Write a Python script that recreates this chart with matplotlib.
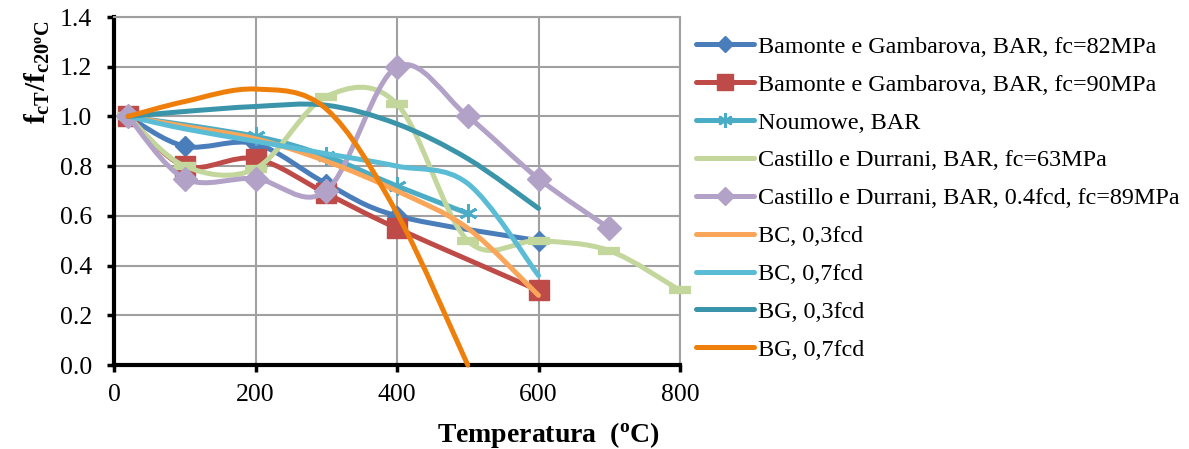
import numpy as np
import matplotlib
matplotlib.use("Agg")
import matplotlib.pyplot as plt
from matplotlib.path import Path
from matplotlib.patches import PathPatch
from matplotlib.lines import Line2D

plt.rcParams['font.family'] = ['Liberation Serif', 'DejaVu Serif']
plt.rcParams['mathtext.fontset'] = 'custom'
plt.rcParams['mathtext.rm'] = 'Liberation Serif'
plt.rcParams['mathtext.bf'] = 'Liberation Serif:bold'

# data
labels = ["Bamonte e Gambarova, BAR, fc=82MPa",
          "Bamonte e Gambarova, BAR, fc=90MPa",
          "Noumowe, BAR",
          "Castillo e Durrani, BAR, fc=63MPa",
          "Castillo e Durrani, BAR, 0.4fcd, fc=89MPa",
          "BC, 0,3fcd",
          "BC, 0,7fcd",
          "BG, 0,3fcd",
          "BG, 0,7fcd"]

bg82_t = [20, 100, 200, 300, 400, 600]
bg82_v = [1.0, 0.88, 0.89, 0.73, 0.60, 0.50]
bg90_t = [20, 100, 200, 300, 400, 600]
bg90_v = [1.0, 0.80, 0.83, 0.69, 0.55, 0.30]
noum_t = [20, 200, 300, 400, 500]
noum_v = [1.0, 0.92, 0.84, 0.72, 0.61]
cd63_t = [20, 100, 200, 300, 400, 500, 600, 700, 800]
cd63_v = [1.0, 0.80, 0.79, 1.08, 1.05, 0.50, 0.50, 0.46, 0.30]
cd89_t = [20, 100, 200, 300, 400, 500, 600, 700]
cd89_v = [1.0, 0.75, 0.75, 0.70, 1.20, 1.00, 0.75, 0.55]
bc03_t = [20, 100, 200, 300, 400, 500, 600]
bc03_v = [1.0, 0.96, 0.91, 0.82, 0.70, 0.55, 0.28]
bc07_t = [20, 100, 200, 300, 400, 500, 600]
bc07_v = [1.0, 0.95, 0.90, 0.85, 0.80, 0.73, 0.36]
bg03_t = [20, 100, 200, 300, 400, 500, 600]
bg03_v = [1.0, 1.02, 1.04, 1.045, 0.97, 0.83, 0.63]
bg07_t = [20, 100, 200, 300, 400, 500]
bg07_v = [1.0, 1.06, 1.11, 1.03, 0.61, 0.0]

series_t = [bg82_t, bg90_t, noum_t, cd63_t, cd89_t, bc03_t, bc07_t, bg03_t, bg07_t]
series_v = [bg82_v, bg90_v, noum_v, cd63_v, cd89_v, bc03_v, bc07_v, bg03_v, bg07_v]

colors = ['#4A7EBB', '#BE4B48', '#4BACC6', '#C3D69B', '#B3A2C7',
          '#F9A65A', '#5BBCD6', '#3A94AA', '#EE7F0A']
markers = ['D', 's', (6, 2, 0), '_', 'D', None, None, None, None]
msizes = [10, 14, 13, 16, 12, 0, 0, 0, 0]
mews = [1, 1, 2, 6, 1, 0, 0, 0, 0]


def smooth_path(x, y):
    # Excel-like smoothed line: cubic Bezier through the points
    p = np.column_stack([x, y]).astype(float)
    n = len(p)
    verts = [p[0]]
    codes = [Path.MOVETO]
    for i in range(n - 1):
        p0 = p[i - 1] if i > 0 else p[i]
        p3 = p[i + 2] if i + 2 < n else p[i + 1]
        c1 = p[i] + (p[i + 1] - p0) / 6.0
        c2 = p[i + 1] - (p3 - p[i]) / 6.0
        verts += [c1, c2, p[i + 1]]
        codes += [Path.CURVE4] * 3
    return Path(verts, codes)


fig = plt.figure(figsize=(11.89, 4.49), dpi=100)
ax = fig.add_axes([114 / 1189, 84 / 449, 566 / 1189, 348 / 449])

handles = []
for k in range(len(labels)):
    patch = PathPatch(smooth_path(series_t[k], series_v[k]), facecolor='none',
                      edgecolor=colors[k], lw=3.6, capstyle='round',
                      joinstyle='round', clip_on=False, zorder=3 + k * 0.1)
    ax.add_patch(patch)
    if markers[k] is not None:
        ax.plot(series_t[k], series_v[k], ls='none', marker=markers[k],
                ms=msizes[k], mfc=colors[k], mec=colors[k], mew=mews[k],
                clip_on=False, zorder=3.05 + k * 0.1)
    handles.append(Line2D([], [], color=colors[k], lw=3.6,
                          marker=markers[k], ms=msizes[k] * 0.8 if markers[k] != '_' else 0,
                          mfc=colors[k], mec=colors[k], mew=mews[k],
                          solid_capstyle='round'))

ax.set_xlim(0, 800)
ax.set_ylim(0, 1.4)
ax.set_xticks([0, 200, 400, 600, 800])
ax.set_yticks(np.arange(0, 1.41, 0.2))
ax.set_yticklabels(['%.1f' % v for v in np.arange(0, 1.41, 0.2)])
ax.grid(True, color='#A0A0A0', lw=1.5)
ax.set_axisbelow(True)
for s in ['top', 'right']:
    ax.spines[s].set_color('#A0A0A0')
    ax.spines[s].set_linewidth(1.5)
for s in ['left', 'bottom']:
    ax.spines[s].set_color('black')
    ax.spines[s].set_linewidth(3)
ax.tick_params(direction='out', length=5, width=2.5, labelsize=18.5)
ax.tick_params(axis='y', pad=11)
ax.tick_params(axis='x', pad=9)

fig.text(37 / 1189, 1 - 72 / 449, r'$\mathbf{f_{cT}/f_{c20^{o}C}}$',
         rotation=90, ha='center', va='center', fontsize=21)
fig.text(548 / 1189, 1 - 435 / 449, r'Temperatura  ($\mathbf{^{o}}$C)',
         ha='center', va='center', fontsize=20, fontweight='bold')

fig.legend(handles, labels, loc='upper left', bbox_to_anchor=(0.585, 0.92),
           frameon=False, fontsize=17.4, handlelength=2.4, handletextpad=0.2,
           labelspacing=0.66, borderpad=0, borderaxespad=0)

fig.savefig('out.png', dpi=100)
